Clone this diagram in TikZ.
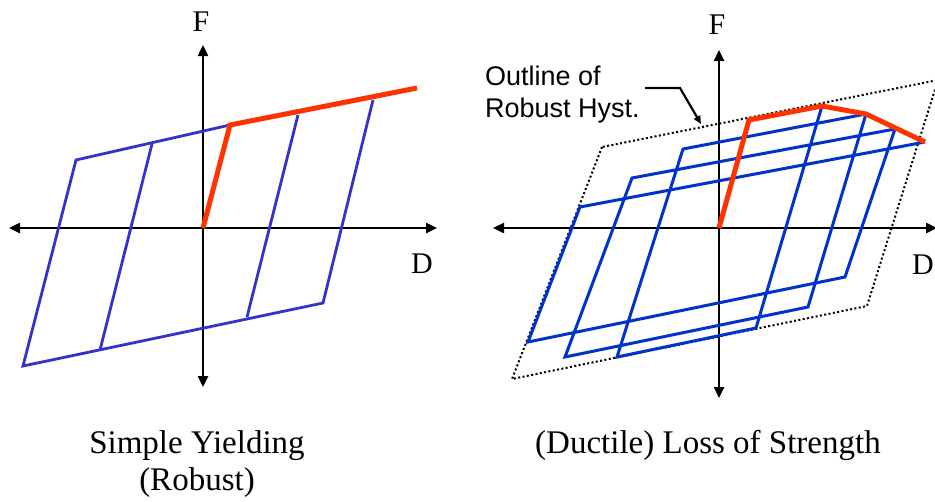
\documentclass[tikz,border=0pt]{standalone}
\usepackage{fontspec}
\setmainfont{Liberation Serif}
\newfontfamily\notefont{Liberation Sans}
\usetikzlibrary{arrows.meta}
\definecolor{bluL}{HTML}{3333CC}
\definecolor{bluR}{HTML}{0033CC}
\definecolor{redC}{HTML}{FF3300}
\tikzset{
  axis/.style={line width=2.4pt,{Triangle[length=11pt,width=10pt]}-{Triangle[length=11pt,width=10pt]}},
  loopL/.style={draw=bluL,line width=2.8pt,line join=miter},
  loopR/.style={draw=bluR,line width=3pt,line join=miter},
  redpath/.style={draw=redC,line width=5pt,line join=miter},
  outline/.style={line width=2pt,dash pattern=on 2pt off 2.4pt},
  lbl/.style={inner sep=0pt,font=\fontsize{30}{30}\selectfont},
  capt/.style={inner sep=0pt,anchor=base,font=\fontsize{33}{37}\selectfont,align=center}
}
\begin{document}
\begin{tikzpicture}[x=1pt,y=-1pt]
\useasboundingbox(0,0)rectangle(935,501);
% left: simple yielding
\coordinate(lO)at(203,228);\coordinate(lT)at(203,45);\coordinate(lB)at(203,387);\coordinate(lW)at(9,228);\coordinate(lE)at(437,228);
\draw[axis](lW)--(lE);\draw[axis](lB)--(lT);
\coordinate(lya)at(230,125);\coordinate(lend)at(417,88);
\coordinate(la)at(373,100);\coordinate(lb)at(323,303);\coordinate(lc)at(23,366);\coordinate(ld)at(76,160);
\coordinate(li1)at(152,144);\coordinate(li2)at(100,350);\coordinate(li3)at(298,115);\coordinate(li4)at(247,317);
\draw[loopL](la)--(lb)--(lc)--(ld)--(lya);\draw[loopL](li1)--(li2);\draw[loopL](li3)--(li4);
\draw[redpath](lO)--(lya)--(lend);
\node[lbl](lF)at(201,22){F};\node[lbl](lD)at(422,264){D};
\node[capt](lcap)at(197,490){Simple Yielding\\(Robust)};
% right: loss of strength
\coordinate(rO)at(719,228);\coordinate(rT)at(719,50);\coordinate(rB)at(719,398);\coordinate(rW)at(493,228);\coordinate(rE)at(937,228);
\draw[axis](rW)--(rE);\draw[axis](rB)--(rT);
\coordinate(oa)at(602,147);\coordinate(ob)at(512,379);\coordinate(oc)at(867,306);\coordinate(od)at(938,80);
\draw[outline](oa)--(ob)--(oc)--(od)--cycle;
\coordinate(p1)at(822,106);\coordinate(p2)at(756,328);\coordinate(p3)at(617,357);\coordinate(p4)at(683,149);
\coordinate(p5)at(866,114);\coordinate(p6)at(808,307);\coordinate(p7)at(565,357);\coordinate(p8)at(632,178);
\coordinate(p9)at(895,129);\coordinate(p10)at(845,277);\coordinate(p11)at(528,342);\coordinate(p12)at(580,207);
\coordinate(p13)at(925,142);
\draw[loopR](p1)--(p2)--(p3)--(p4)--(p5)--(p6)--(p7)--(p8)--(p9)--(p10)--(p11)--(p12)--(p13);
\coordinate(rya)at(749,120);
\draw[redpath](rO)--(rya)--(p1)--(p5)--(p13);
\node[lbl](rF)at(717,25){F};\node[lbl](rD)at(923,265){D};
\node[capt](rcap)at(708,453){(Ductile) Loss of Strength};
\node[inner sep=0pt,anchor=north west,align=left,font=\notefont\fontsize{27}{32}\selectfont](note)at(485,66){Outline of\\Robust Hyst.};
\coordinate(n1)at(645,88);\coordinate(n2)at(680,88);\coordinate(n3)at(701,124);
\draw[line width=2.2pt,-{Triangle[length=8pt,width=7pt]}](n1)--(n2)--(n3);
\end{tikzpicture}
\end{document}
